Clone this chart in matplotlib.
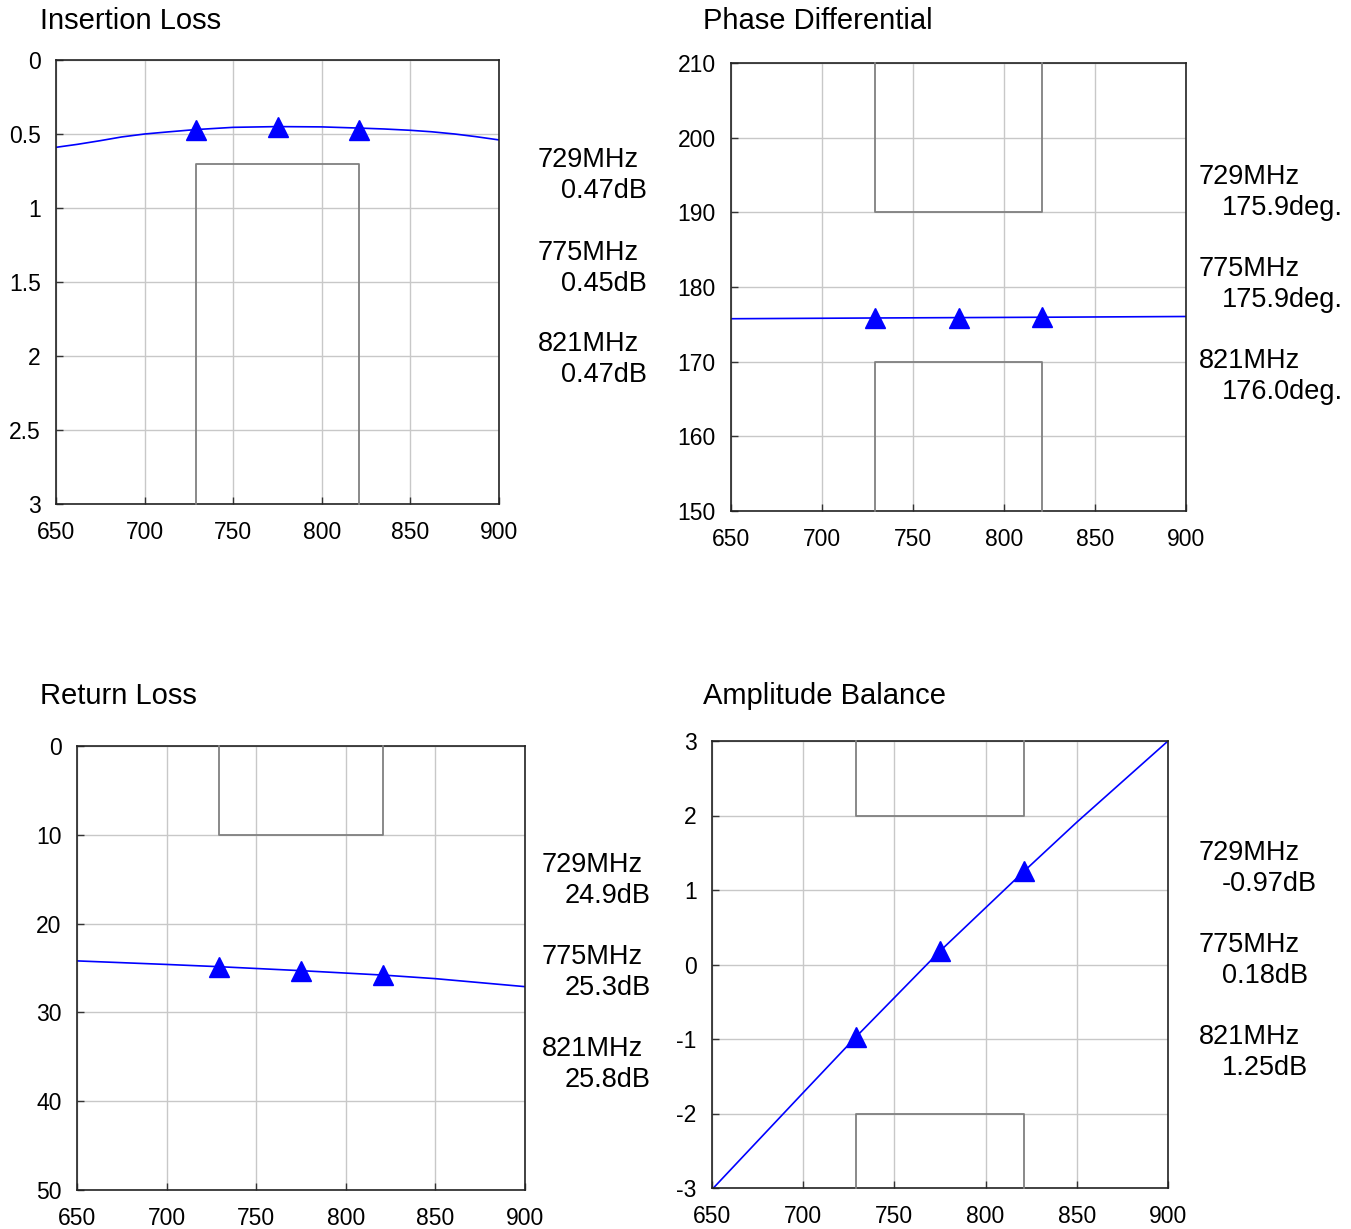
import matplotlib.pyplot as plt

plt.rcParams['font.family'] = ['Liberation Sans', 'DejaVu Sans']
plt.rcParams['axes.unicode_minus'] = False

W, H = 1351, 1229

freq_markers = [729, 775, 821]
band_lo, band_hi = 729, 821

# insertion loss (dB)
il_freq = [650, 662, 675, 687, 700, 714, 729, 750, 775, 800, 821, 835, 850, 862, 875, 887, 900]
il_vals = [0.59, 0.57, 0.545, 0.52, 0.50, 0.485, 0.47, 0.455, 0.45, 0.452, 0.46, 0.466, 0.475, 0.485, 0.50, 0.518, 0.54]
il_mark = [0.47, 0.45, 0.47]
il_limit = 0.7

# phase differential (deg)
ph_freq = [650, 729, 775, 821, 900]
ph_vals = [175.75, 175.85, 175.9, 175.95, 176.05]
ph_mark = [175.9, 175.9, 176.0]
ph_limits = (170, 190)

# return loss (dB)
rl_freq = [650, 700, 729, 775, 821, 850, 900]
rl_vals = [24.2, 24.6, 24.85, 25.3, 25.8, 26.2, 27.1]
rl_mark = [24.9, 25.3, 25.8]
rl_limit = 10

# amplitude balance (dB)
ab_freq = [650, 700, 729, 775, 821, 850, 900]
ab_vals = [-3.02, -1.72, -0.97, 0.18, 1.25, 1.91, 3.0]
ab_mark = [-0.97, 0.18, 1.25]
ab_limits = (-2, 2)

il_text = ["0.47dB", "0.45dB", "0.47dB"]
ph_text = ["175.9deg.", "175.9deg.", "176.0deg."]
rl_text = ["24.9dB", "25.3dB", "25.8dB"]
ab_text = ["-0.97dB", "0.18dB", "1.25dB"]

xticks = [650, 700, 750, 800, 850, 900]

fig = plt.figure(figsize=(W / 100, H / 100), dpi=100)


def make_ax(l, r, t, b):
    ax = fig.add_axes([l / W, 1 - b / H, (r - l) / W, (b - t) / H])
    ax.set_xlim(650, 900)
    ax.set_xticks(xticks)
    ax.grid(True, color='#c8c8c8', lw=1.0)
    ax.set_axisbelow(True)
    ax.tick_params(direction='in', length=5, width=1, labelsize=16.5, color='#333333')
    ax.tick_params(axis='y', pad=11)
    ax.tick_params(axis='x', pad=12)
    for s in ax.spines.values():
        s.set_color('#222222')
        s.set_linewidth(1.2)
    return ax


def series(ax, f, v, m):
    ax.plot(f, v, color='#0000ff', lw=1.2, clip_on=True)
    ax.plot(freq_markers, m, ls='none', marker='^', ms=14.5, color='#0000ff', clip_on=False, zorder=5)


def box(ax, edge, inner):
    ax.plot([band_lo, band_lo, band_hi, band_hi], [edge, inner, inner, edge],
            color='#808080', lw=1.3, zorder=3, clip_on=False)


def notes(x, ys, vals):
    for y, fr, val in zip(ys, freq_markers, vals):
        fig.text(x / W, 1 - y / H, f"{fr}MHz", fontsize=19.5, va='center', ha='left')
        fig.text((x + 23) / W, 1 - (y + 31) / H, val, fontsize=19.5, va='center', ha='left')


def title(x, y, s):
    fig.text(x / W, 1 - y / H, s, fontsize=21, va='center', ha='left')


# Insertion Loss
ax1 = make_ax(56, 499, 60, 504)
ax1.set_ylim(3, 0)
ax1.set_yticks([0, 0.5, 1, 1.5, 2, 2.5, 3])
ax1.set_yticklabels(['0', '0.5', '1', '1.5', '2', '2.5', '3'])
box(ax1, 3, il_limit)
series(ax1, il_freq, il_vals, il_mark)
title(40, 21, "Insertion Loss")
notes(538, [160, 253, 344], il_text)

# Phase Differential
ax2 = make_ax(731, 1186, 63, 511)
ax2.set_ylim(150, 210)
ax2.set_yticks(range(150, 211, 10))
box(ax2, 210, ph_limits[1])
box(ax2, 150, ph_limits[0])
series(ax2, ph_freq, ph_vals, ph_mark)
title(703, 21, "Phase Differential")
notes(1199, [177, 269, 361], ph_text)

# Return Loss
ax3 = make_ax(77, 525, 746, 1190)
ax3.set_ylim(50, 0)
ax3.set_yticks(range(0, 51, 10))
box(ax3, 0, rl_limit)
series(ax3, rl_freq, rl_vals, rl_mark)
title(40, 696, "Return Loss")
notes(542, [865, 957, 1049], rl_text)

# Amplitude Balance
ax4 = make_ax(712, 1168, 741, 1188)
ax4.set_ylim(-3, 3)
ax4.set_yticks(range(-3, 4))
box(ax4, 3, ab_limits[1])
box(ax4, -3, ab_limits[0])
series(ax4, ab_freq, ab_vals, ab_mark)
title(703, 696, "Amplitude Balance")
notes(1199, [853, 945, 1037], ab_text)

fig.savefig("out.png", dpi=100)
